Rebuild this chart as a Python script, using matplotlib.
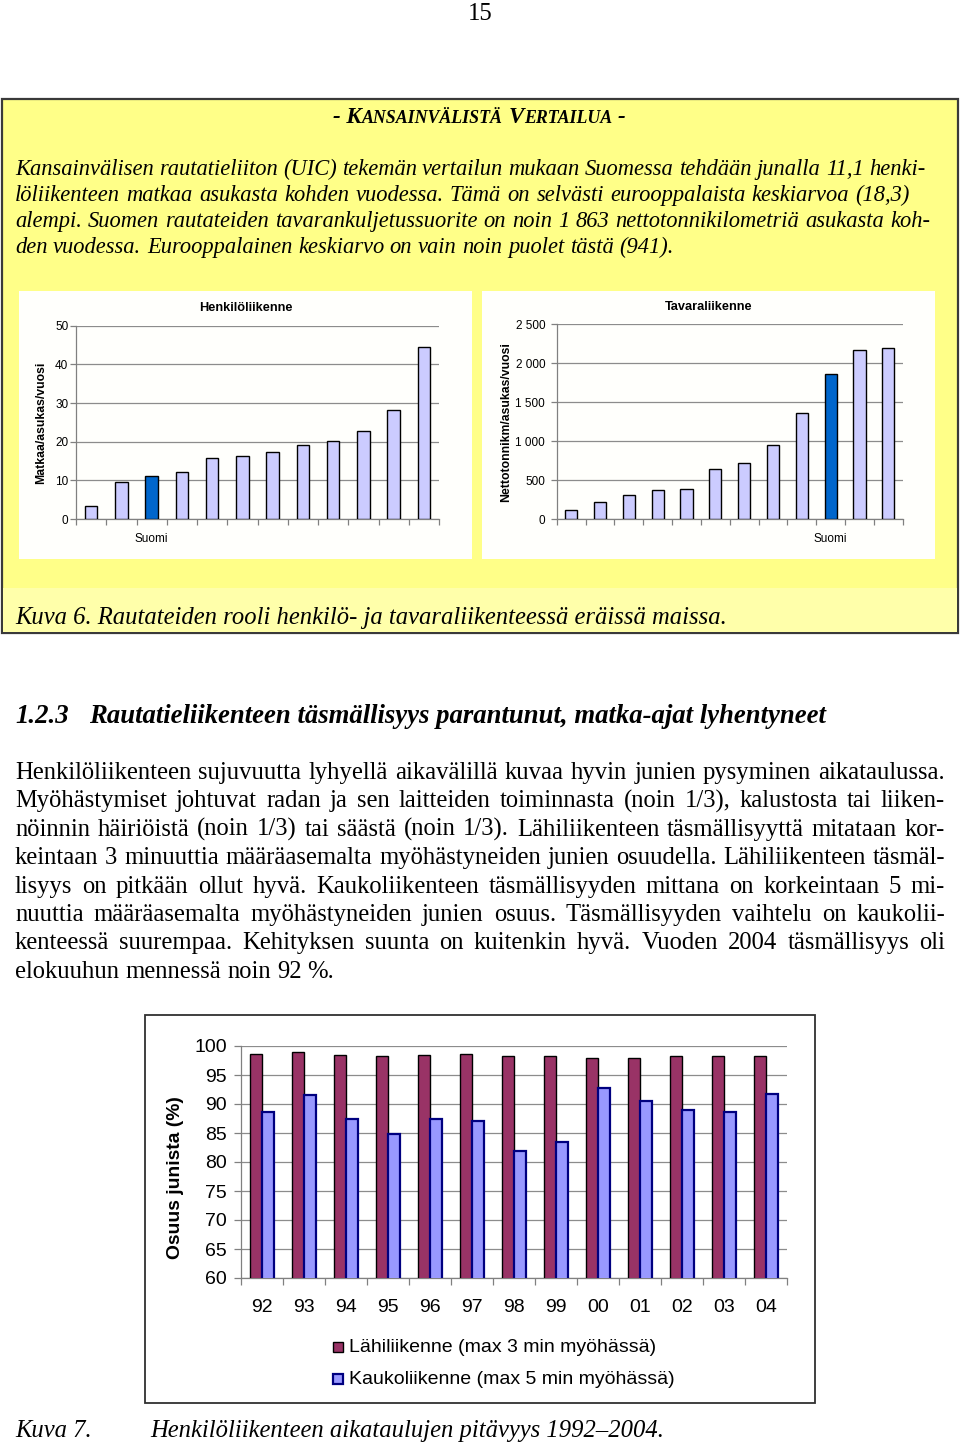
import matplotlib
matplotlib.use('Agg')
import matplotlib.pyplot as plt
from matplotlib.patches import Rectangle
from matplotlib.font_manager import FontProperties
from matplotlib.ticker import FuncFormatter
import numpy as np

# ---------------- data ----------------
henk_values = [3.3, 9.5, 11.1, 12.2, 15.9, 16.2, 17.4, 19.1, 20.3, 22.8, 28.3, 44.4]
henk_labels = ['', '', 'Suomi', '', '', '', '', '', '', '', '', '']
tav_values = [120, 220, 310, 370, 390, 640, 715, 950, 1360, 1863, 2170, 2195]
tav_labels = ['', '', '', '', '', '', '', '', '', 'Suomi', '', '']
years = ['92', '93', '94', '95', '96', '97', '98', '99', '00', '01', '02', '03', '04']
lahi = [98.7, 99.0, 98.5, 98.2, 98.5, 98.7, 98.2, 98.2, 97.9, 97.9, 98.2, 98.2, 98.2]
kauko = [88.7, 91.5, 87.4, 84.8, 87.4, 87.1, 81.9, 83.4, 92.8, 90.5, 88.9, 88.7, 91.8]

page_no = '15'
box_title = ['- K', 'ANSAINVÄLISTÄ', ' ', 'V', 'ERTAILUA', ' ', '-']
intro_lines = [
    'Kansainvälisen rautatieliiton (UIC) tekemän vertailun mukaan Suomessa tehdään junalla 11,1 henki-',
    'löliikenteen matkaa asukasta kohden vuodessa. Tämä on selvästi eurooppalaista keskiarvoa (18,3)',
    'alempi. Suomen rautateiden tavarankuljetussuorite on noin 1 863 nettotonnikilometriä asukasta koh-',
    'den vuodessa. Eurooppalainen keskiarvo on vain noin puolet tästä (941).',
]
caption6 = 'Kuva 6. Rautateiden rooli henkilö- ja tavaraliikenteessä eräissä maissa.'
section_no = '1.2.3'
section_title = 'Rautatieliikenteen täsmällisyys parantunut, matka-ajat lyhentyneet'
body_lines = [
    'Henkilöliikenteen sujuvuutta lyhyellä aikavälillä kuvaa hyvin junien pysyminen aikataulussa.',
    'Myöhästymiset johtuvat radan ja sen laitteiden toiminnasta (noin 1/3), kalustosta tai liiken-',
    'nöinnin häiriöistä (noin 1/3) tai säästä (noin 1/3). Lähiliikenteen täsmällisyyttä mitataan kor-',
    'keintaan 3 minuuttia määräasemalta myöhästyneiden junien osuudella. Lähiliikenteen täsmäl-',
    'lisyys on pitkään ollut hyvä. Kaukoliikenteen täsmällisyyden mittana on korkeintaan 5 mi-',
    'nuuttia määräasemalta myöhästyneiden junien osuus. Täsmällisyyden vaihtelu on kaukolii-',
    'kenteessä suurempaa. Kehityksen suunta on kuitenkin hyvä. Vuoden 2004 täsmällisyys oli',
    'elokuuhun mennessä noin 92 %.',
]
caption7_a = 'Kuva 7.'
caption7_b = 'Henkilöliikenteen aikataulujen pitävyys 1992–2004.'
legend_labels = ['Lähiliikenne (max 3 min myöhässä)', 'Kaukoliikenne (max 5 min myöhässä)']

# ---------------- setup ----------------
W, H = 960, 1446
fig = plt.figure(figsize=(9.6, 14.46), dpi=100)
fig.patch.set_facecolor('white')
bg = fig.add_axes([0, 0, 1, 1], zorder=0)
bg.set_xlim(0, W); bg.set_ylim(H, 0); bg.axis('off')
renderer = fig.canvas.get_renderer()

SERIF = 'Liberation Serif'
SANS = 'Liberation Sans'


def fp(size, family=SERIF, style='normal', weight='normal'):
    return FontProperties(family=family, style=style, weight=weight, size=size)


def tw(s, prop):
    t = fig.text(0, 0, s, fontproperties=prop)
    w = t.get_window_extent(renderer).width
    t.remove()
    return w


def space_w(prop):
    return tw('a a', prop) - tw('aa', prop)


def fit_size(s, target, **kw):
    w10 = tw(s, fp(10, **kw))
    return 10 * target / w10


def draw_line(s, x0, y, prop, x1=None):
    words = s.split(' ')
    ws = [tw(w, prop) for w in words]
    if x1 is not None and len(words) > 1:
        gap = (x1 - x0 - sum(ws)) / (len(words) - 1)
    else:
        gap = space_w(prop)
    x = x0
    for w, wd in zip(words, ws):
        bg.text(x, y, w, fontproperties=prop, ha='left', va='baseline', color='black')
        x += wd + gap


def fax(x0, y0, x1, y1, **kw):
    return fig.add_axes([x0 / W, 1 - y1 / H, (x1 - x0) / W, (y1 - y0) / H], **kw)


# ---------------- backgrounds ----------------
bg.add_patch(Rectangle((2, 99), 956, 534, fc='#FFFF88', ec='#3a3a3a', lw=1.6, zorder=0))
bg.add_patch(Rectangle((3, 588), 954, 44, fc='#FFFFAA', ec='none', zorder=0.5))
bg.add_patch(Rectangle((19, 290.5), 453, 268.5, fc='#FFFFFC', ec='none', zorder=1))
bg.add_patch(Rectangle((482, 290.5), 453, 268.5, fc='#FFFFFC', ec='none', zorder=1))
bg.add_patch(Rectangle((145, 1015), 670, 388, fc='white', ec='#303030', lw=1.3, zorder=1))

# ---------------- texts ----------------
body_size = fit_size(body_lines[-1], 320)
bg.text(480, 20, page_no, fontproperties=fp(body_size), ha='center', va='baseline')

# small-caps title
big = 10
rels = [1.0, 0.78, 1.0, 1.0, 0.78, 1.0, 1.0]
def runs_total(b):
    tot = 0
    for s, r in zip(box_title, rels):
        p = fp(b * r, style='italic', weight='bold')
        tot += space_w(p) if s == ' ' else tw(s, p)
    return tot
big = 10 * 294 / runs_total(10)
x = 333
for s, r in zip(box_title, rels):
    p = fp(big * r, style='italic', weight='bold')
    if s == ' ':
        x += space_w(p)
        continue
    bg.text(x, 123, s, fontproperties=p, ha='left', va='baseline', zorder=3)
    x += tw(s, p)

intro_size = fit_size(intro_lines[-1], 663, style='italic')
intro_ends = [925, 910, 930, None]
for i, (ln, e) in enumerate(zip(intro_lines, intro_ends)):
    draw_line(ln, 15, 175 + 26 * i, fp(intro_size, style='italic'), e)

cap_size = fit_size(caption6, 713, style='italic')
bg.text(15, 624, caption6, fontproperties=fp(cap_size, style='italic'), ha='left', va='baseline', zorder=3)

sec_size = fit_size(section_title, 739, style='italic', weight='bold')
bg.text(15, 723, section_no, fontproperties=fp(sec_size, style='italic', weight='bold'), ha='left', va='baseline')
bg.text(89, 723, section_title, fontproperties=fp(sec_size, style='italic', weight='bold'), ha='left', va='baseline')

for i, ln in enumerate(body_lines):
    e = 945 if i < len(body_lines) - 1 else None
    draw_line(ln, 15, 779 + 28.4 * i, fp(body_size), e)

cap7_size = fit_size(caption7_b, 515, style='italic')
bg.text(15, 1437, caption7_a, fontproperties=fp(cap7_size, style='italic'), ha='left', va='baseline')
bg.text(150, 1437, caption7_b, fontproperties=fp(cap7_size, style='italic'), ha='left', va='baseline')

# ---------------- small bar charts ----------------
LIGHT = '#CCCCFF'
SUOMI = '#0066CC'
GRID = '#8c8c8c'
AXC = '#808080'


def small_chart(ax, values, labels, ymax, ystep, title, title_x, ylabel, label_x, ypad, fmt=None):
    n = len(values)
    x = np.arange(n)
    cols = [SUOMI if l == 'Suomi' else LIGHT for l in labels]
    ax.bar(x, values, width=0.42, color=cols, edgecolor='black', linewidth=1.0, zorder=3)
    ax.set_xlim(-0.5, n - 0.5)
    ax.set_ylim(0, ymax)
    ax.set_yticks(np.arange(0, ymax + 1, ystep))
    if fmt:
        ax.yaxis.set_major_formatter(FuncFormatter(fmt))
    ax.set_xticks(x)
    ax.set_xticklabels(labels, fontfamily=SANS, fontsize=8.5)
    ax.set_xticks(np.arange(-0.5, n), minor=True)
    ax.tick_params(axis='x', which='major', length=0, pad=10)
    ax.tick_params(axis='x', which='minor', length=4, color=AXC, width=0.9)
    ax.tick_params(axis='y', length=4, color=AXC, width=0.9, pad=ypad, labelsize=8.5)
    for t in ax.get_yticklabels():
        t.set_fontfamily(SANS)
    ax.grid(axis='y', color=GRID, lw=0.9)
    ax.set_axisbelow(True)
    for s in ['top', 'right']:
        ax.spines[s].set_visible(False)
    for s in ['left', 'bottom']:
        ax.spines[s].set_color(AXC)
        ax.spines[s].set_linewidth(0.9)
    ax.set_title(title, x=title_x, pad=10.6, fontfamily=SANS, fontweight='bold', fontsize=9.2)
    ax.set_ylabel(ylabel, fontfamily=SANS, fontweight='bold', fontsize=8.8, va='center')
    ax.yaxis.set_label_coords(label_x, 0.5)
    ax.set_facecolor('none')


axL = fax(76, 325.7, 439, 519, zorder=2)
small_chart(axL, henk_values, henk_labels, 50, 10, 'Henkilöliikenne', (245.5 - 76) / 363,
            'Matkaa/asukas/vuosi', (41 - 76) / 363, 1.5)

axR = fax(556.7, 324.3, 902.7, 519, zorder=2)
small_chart(axR, tav_values, tav_labels, 2500, 500, 'Tavaraliikenne', (708.5 - 556.7) / 346,
            'Nettotonnikm/asukas/vuosi', (506 - 556.7) / 346, 4.3,
            fmt=lambda v, p: f'{int(v):,}'.replace(',', ' '))

# ---------------- punctuality chart ----------------
MAROON = '#993366'
BLUE = '#9999FF'
NAVY = '#000080'
axB = fax(240.7, 1046, 787, 1278, zorder=2)
xb = np.arange(len(years))
bw = 0.29
axB.bar(xb - bw / 2, lahi, width=bw, color=MAROON, edgecolor='black', linewidth=1.0, zorder=3)
axB.bar(xb + bw / 2, kauko, width=bw, color=BLUE, edgecolor=NAVY, linewidth=1.6, zorder=3)
axB.set_xlim(-0.5, len(years) - 0.5)
axB.set_ylim(60, 100)
axB.set_yticks(np.arange(60, 101, 5))
axB.set_xticks(xb)
axB.set_xticklabels(years)
axB.set_xticks(np.arange(-0.5, len(years)), minor=True)
axB.tick_params(axis='x', which='major', length=0, pad=15)
axB.tick_params(axis='x', which='minor', length=5, color=AXC, width=0.9)
axB.tick_params(axis='y', length=5, color=AXC, width=0.9, pad=5)
for t in axB.get_xticklabels() + axB.get_yticklabels():
    t.set_fontfamily(SANS); t.set_fontsize(14)
axB.grid(axis='y', color=GRID, lw=0.9)
axB.set_axisbelow(True)
for s in ['top', 'right']:
    axB.spines[s].set_visible(False)
for s in ['left', 'bottom']:
    axB.spines[s].set_color(AXC); axB.spines[s].set_linewidth(0.9)
axB.set_ylabel('Osuus junista (%)', fontfamily=SANS, fontweight='bold', fontsize=13.9, va='center')
axB.yaxis.set_label_coords((175 - 240.7) / 546.3, (1278 - 1178) / 232)
axB.set_facecolor('none')

# legend
leg_y = [1347, 1379]
leg_fc = [MAROON, BLUE]
leg_ec = ['black', NAVY]
leg_lw = [1.0, 1.6]
for yy, lab, fc, ec, lw in zip(leg_y, legend_labels, leg_fc, leg_ec, leg_lw):
    bg.add_patch(Rectangle((333, yy - 5), 10, 10, fc=fc, ec=ec, lw=lw, zorder=3))
    bg.text(349, yy, lab, fontfamily=SANS, fontsize=14, ha='left', va='center', zorder=3)

fig.savefig('out.png', dpi=100)
